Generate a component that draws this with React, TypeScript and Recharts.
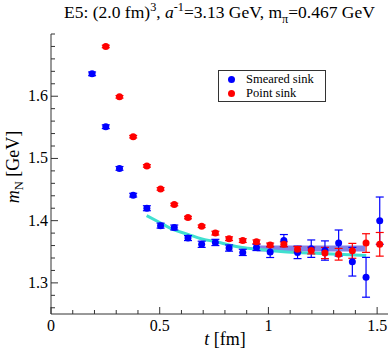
import React from 'react';
import {
  ComposedChart,
  Scatter,
  Line,
  XAxis,
  YAxis,
  ErrorBar,
  ReferenceArea,
} from 'recharts';

// lattice times (fm)
const tBlue = [
  0.189, 0.252, 0.315, 0.378, 0.441, 0.504, 0.567, 0.630, 0.693, 0.756, 0.819,
  0.882, 0.945, 1.008, 1.071, 1.134, 1.197, 1.260, 1.323, 1.386, 1.449, 1.512,
];
const mBlue = [
  1.636, 1.551, 1.484, 1.441, 1.420, 1.392, 1.389, 1.372, 1.362, 1.365, 1.356,
  1.349, 1.357, 1.3495, 1.368, 1.349, 1.355, 1.352, 1.364, 1.334, 1.309, 1.400,
];
const eBlue = [
  0.003, 0.003, 0.003, 0.003, 0.004, 0.004, 0.004, 0.004, 0.005, 0.005, 0.005,
  0.005, 0.005, 0.0087, 0.0097, 0.010, 0.014, 0.0155, 0.021, 0.023, 0.032, 0.038,
];

const tRed = [
  0.252, 0.315, 0.378, 0.441, 0.504, 0.567, 0.630, 0.693, 0.756, 0.819, 0.882,
  0.945, 1.008, 1.071, 1.134, 1.197, 1.260, 1.323, 1.386, 1.449, 1.512,
];
const mRed = [
  1.680, 1.599, 1.535, 1.488, 1.451, 1.426, 1.405, 1.391, 1.380, 1.371, 1.368,
  1.366, 1.361, 1.362, 1.354, 1.352, 1.348, 1.346, 1.3515, 1.364, 1.362,
];
const eRed = [
  0.002, 0.002, 0.002, 0.002, 0.002, 0.002, 0.002, 0.002, 0.003, 0.003, 0.003,
  0.003, 0.003, 0.004, 0.0045, 0.0055, 0.009, 0.0094, 0.012, 0.015, 0.019,
];

// fit curve
const tFit = [0.44, 0.5, 0.56, 0.63, 0.69, 0.76, 0.82, 0.88, 0.95, 1.07, 1.2, 1.32, 1.45];
const mFit = [1.408, 1.397, 1.386, 1.378, 1.371, 1.366, 1.361, 1.357, 1.354, 1.350, 1.348, 1.346, 1.344];

// plateau band
const bandT = [0.946, 1.444];
const bandM = [1.3505, 1.36];

const xTicks = [0, 0.1, 0.2, 0.3, 0.4, 0.5, 0.6, 0.7, 0.8, 0.9, 1, 1.1, 1.2, 1.3, 1.4, 1.5];
const xLabels = [0, 0.5, 1, 1.5];
const yTicks = [
  1.26, 1.28, 1.3, 1.32, 1.34, 1.36, 1.38, 1.4, 1.42, 1.44, 1.46, 1.48, 1.5,
  1.52, 1.54, 1.56, 1.58, 1.6, 1.62, 1.64, 1.66, 1.68, 1.7,
];
const yLabels = [1.3, 1.4, 1.5, 1.6];

const legendNames = ['Smeared sink', 'Point sink'];
const legendColors = ['#0000ff', '#ff0000'];

const blueData = tBlue.map((t, i) => ({ t, v: mBlue[i], e: eBlue[i] }));
const redData = tRed.map((t, i) => ({ t, v: mRed[i], e: eRed[i] }));
const fitData = tFit.map((t, i) => ({ t, v: mFit[i] }));

const FONT = "'Liberation Serif', 'DejaVu Serif', serif";
const AXIS = '#333';

const near = (a: number, list: number[]) => list.some((b) => Math.abs(a - b) < 1e-6);

const BottomTick = ({ x, y, payload }: any) => {
  const major = near(payload.value, xLabels);
  return (
    <g>
      <line x1={x} y1={y} x2={x} y2={y - (major ? 7 : 4)} stroke={AXIS} />
      {major && (
        <text x={x} y={y + 17} textAnchor="middle" fontSize={16} fontFamily={FONT} fill="#000">
          {String(payload.value)}
        </text>
      )}
    </g>
  );
};

const TopTick = ({ x, y, payload }: any) => {
  const major = near(payload.value, xLabels);
  return <line x1={x} y1={y} x2={x} y2={y + (major ? 7 : 4)} stroke={AXIS} />;
};

const LeftTick = ({ x, y, payload }: any) => {
  const major = near(payload.value, yLabels);
  return (
    <g>
      <line x1={x} y1={y} x2={x + (major ? 7 : 4)} y2={y} stroke={AXIS} />
      {major && (
        <text x={x - 3} y={y + 5} textAnchor="end" fontSize={16} fontFamily={FONT} fill="#000">
          {payload.value.toFixed(1)}
        </text>
      )}
    </g>
  );
};

const RightTick = ({ x, y, payload }: any) => {
  const major = near(payload.value, yLabels);
  return <line x1={x} y1={y} x2={x - (major ? 7 : 4)} y2={y} stroke={AXIS} />;
};

const dot = (color: string) => (p: any) => <circle cx={p.cx} cy={p.cy} r={3.5} fill={color} />;

export default function App() {
  return (
    <div style={{ position: 'absolute', left: 0, top: 0, width: 392, height: 350, background: '#fff', fontFamily: FONT }}>
      <div
        style={{
          position: 'absolute',
          left: 51,
          width: 337,
          top: 0,
          textAlign: 'center',
          fontSize: 17.5,
          lineHeight: '24px',
          whiteSpace: 'nowrap',
        }}
      >
        E5: (2.0 fm)<sup style={{ fontSize: '0.7em', lineHeight: 0 }}>3</sup>, <i>a</i>
        <sup style={{ fontSize: '0.7em', lineHeight: 0 }}>-1</sup>=3.13 GeV, m
        <sub style={{ fontSize: '0.7em', lineHeight: 0 }}>π</sub>=0.467 GeV
      </div>

      <ComposedChart width={392} height={350} margin={{ top: 34, right: 4, bottom: 0, left: 0 }}>
        <XAxis
          xAxisId={0}
          type="number"
          dataKey="t"
          domain={[0, 1.55]}
          ticks={xTicks}
          interval={0}
          allowDataOverflow
          height={36}
          tickSize={0}
          tickMargin={0}
          tickLine={false}
          axisLine={{ stroke: AXIS }}
          tick={<BottomTick />}
        />
        <XAxis
          xAxisId="top"
          orientation="top"
          type="number"
          domain={[0, 1.55]}
          ticks={xTicks}
          interval={0}
          allowDataOverflow
          height={0}
          tickSize={0}
          tickMargin={0}
          tickLine={false}
          axisLine={{ stroke: AXIS }}
          tick={<TopTick />}
        />
        <YAxis
          yAxisId={0}
          type="number"
          domain={[1.25, 1.7]}
          ticks={yTicks}
          interval={0}
          allowDataOverflow
          width={51}
          tickSize={0}
          tickMargin={0}
          tickLine={false}
          axisLine={{ stroke: AXIS }}
          tick={<LeftTick />}
        />
        <YAxis
          yAxisId="right"
          orientation="right"
          type="number"
          domain={[1.25, 1.7]}
          ticks={yTicks}
          interval={0}
          allowDataOverflow
          width={0}
          tickSize={0}
          tickMargin={0}
          tickLine={false}
          axisLine={{ stroke: AXIS }}
          tick={<RightTick />}
        />
        <ReferenceArea
          x1={bandT[0]}
          x2={bandT[1]}
          y1={bandM[0]}
          y2={bandM[1]}
          fill="#5a5ae0"
          fillOpacity={0.75}
          stroke="none"
        />
        <Line
          data={fitData}
          dataKey="v"
          type="monotone"
          stroke="#40e0d0"
          strokeWidth={3}
          dot={false}
          activeDot={false}
          isAnimationActive={false}
        />
        <Scatter data={blueData} dataKey="v" shape={dot('#0000ff')} isAnimationActive={false}>
          <ErrorBar dataKey="e" direction="y" width={4} stroke="#0000ff" strokeWidth={1.2} isAnimationActive={false} />
        </Scatter>
        <Scatter data={redData} dataKey="v" shape={dot('#ff0000')} isAnimationActive={false}>
          <ErrorBar dataKey="e" direction="y" width={4} stroke="#ff0000" strokeWidth={1.2} isAnimationActive={false} />
        </Scatter>
      </ComposedChart>

      {/* axis titles */}
      <div
        style={{
          position: 'absolute',
          left: 15,
          top: 167,
          transform: 'translate(-50%, -50%) rotate(-90deg)',
          fontSize: 18,
          whiteSpace: 'nowrap',
        }}
      >
        <i>m</i>
        <sub style={{ fontSize: '0.7em' }}>N</sub> [GeV]
      </div>
      <div
        style={{
          position: 'absolute',
          left: 225,
          top: 339,
          transform: 'translate(-50%, -50%)',
          fontSize: 18,
          whiteSpace: 'nowrap',
        }}
      >
        <i>t</i> [fm]
      </div>

      {/* legend */}
      <div
        style={{
          position: 'absolute',
          left: 218,
          top: 70,
          width: 106,
          height: 30,
          border: `1px solid ${AXIS}`,
          background: '#fff',
          fontSize: 12.5,
        }}
      >
        {legendNames.map((name, i) => (
          <div
            key={name}
            style={{ position: 'absolute', left: 0, top: 3 + i * 14, height: 11, lineHeight: '11px', whiteSpace: 'nowrap' }}
          >
            <span
              style={{
                position: 'absolute',
                left: 9,
                top: 2,
                width: 7,
                height: 7,
                borderRadius: '50%',
                background: legendColors[i],
              }}
            />
            <span style={{ position: 'absolute', left: 27 }}>{name}</span>
          </div>
        ))}
      </div>
    </div>
  );
}
